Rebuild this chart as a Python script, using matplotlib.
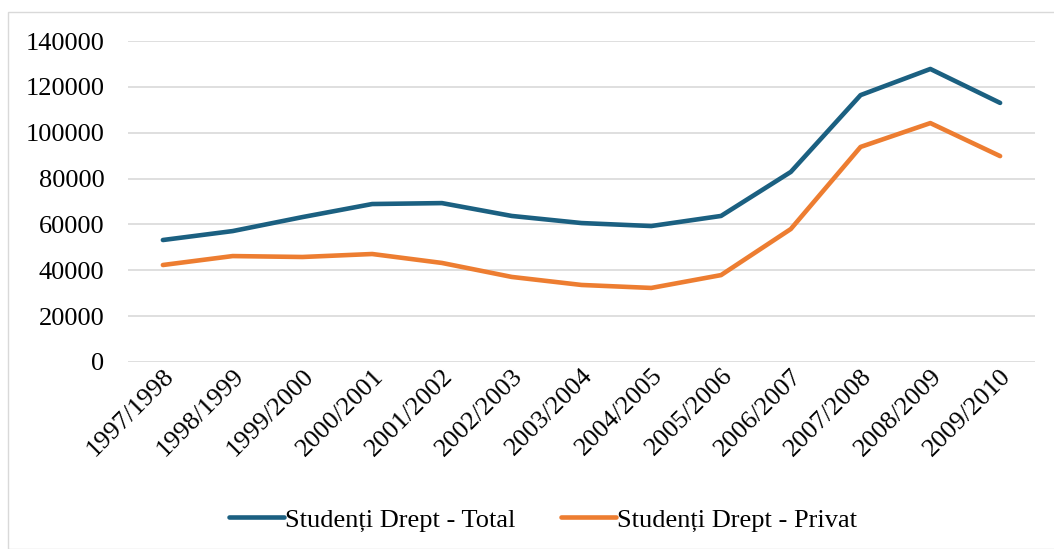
import matplotlib.pyplot as plt
from matplotlib.patches import Rectangle

years = ["1997/1998", "1998/1999", "1999/2000", "2000/2001", "2001/2002",
         "2002/2003", "2003/2004", "2004/2005", "2005/2006", "2006/2007",
         "2007/2008", "2008/2009", "2009/2010"]
total = [53200, 57100, 63200, 68900, 69300, 63700, 60600, 59300, 63700,
         82900, 116400, 127800, 113000]
privat = [42300, 46200, 45800, 47100, 43200, 37100, 33600, 32300, 37900,
          58000, 93800, 104200, 89800]

plt.rcParams['font.family'] = ['Liberation Serif', 'DejaVu Serif']

fig = plt.figure(figsize=(10.54, 5.49), dpi=100)
ax = fig.add_axes([128 / 1054, 1 - 362 / 549, 907 / 1054, 321 / 549])

# outer chart border
fig.patches.append(Rectangle((8 / 1054, 0), 1.1, 1 - 12 / 549, transform=fig.transFigure,
                             fill=False, edgecolor="#d9d9d9", linewidth=1))

x = range(len(years))
ax.plot(x, total, color="#1b6081", lw=3.3, solid_capstyle="round",
        solid_joinstyle="round", label="Studenți Drept - Total")
ax.plot(x, privat, color="#ed7d31", lw=3.3, solid_capstyle="round",
        solid_joinstyle="round", label="Studenți Drept - Privat")

ax.set_xlim(-0.5, len(years) - 0.5)
ax.set_ylim(0, 140000)
ax.set_yticks(range(0, 140001, 20000))
ax.set_yticklabels([str(v) for v in range(0, 140001, 20000)], fontsize=19)
ax.set_xticks(list(x))
ax.set_xticklabels(years, fontsize=19, rotation=45, ha="right", rotation_mode="anchor")
ax.tick_params(length=0)
ax.tick_params(axis="y", pad=17)
ax.tick_params(axis="x", pad=2)

ax.grid(axis="y", color="#d9d9d9", lw=1.2)
ax.set_axisbelow(True)
for s in ax.spines.values():
    s.set_visible(False)

ax.legend(loc="center", bbox_to_anchor=(543 / 1054, 1 - 520 / 549),
          bbox_transform=fig.transFigure, ncol=2, frameon=False, fontsize=19,
          handlelength=2.1, handletextpad=0.05, columnspacing=1.7)

fig.savefig("out.png", dpi=100)
